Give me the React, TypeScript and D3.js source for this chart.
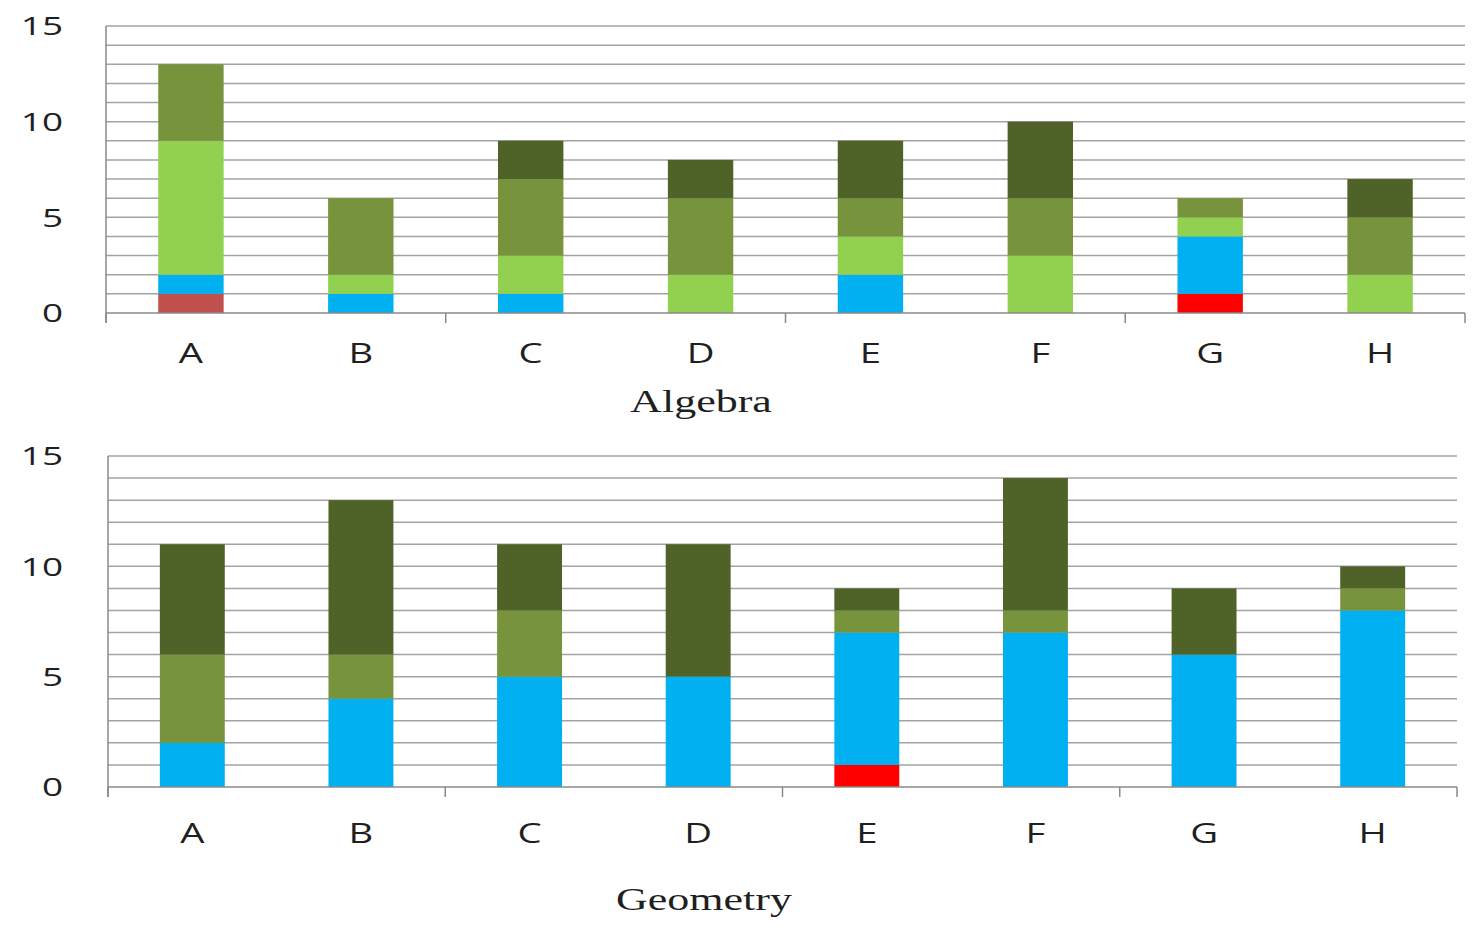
import React from "react";
import * as d3 from "d3";

const categories = ["A", "B", "C", "D", "E", "F", "G", "H"];
const seriesKeys = ["darkRed", "red", "blue", "lightGreen", "midGreen", "darkGreen"];
const seriesColors = ["#C0504D", "#FF0000", "#00B0F0", "#92D050", "#77933C", "#4F6228"];
const yTicks = [0, 5, 10, 15];

// Algebra
const algebraDarkRed = [1, 0, 0, 0, 0, 0, 0, 0];
const algebraRed = [0, 0, 0, 0, 0, 0, 1, 0];
const algebraBlue = [1, 1, 1, 0, 2, 0, 3, 0];
const algebraLightGreen = [7, 1, 2, 2, 2, 3, 1, 2];
const algebraMidGreen = [4, 4, 4, 4, 2, 3, 1, 3];
const algebraDarkGreen = [0, 0, 2, 2, 3, 4, 0, 2];

// Geometry
const geometryDarkRed = [0, 0, 0, 0, 0, 0, 0, 0];
const geometryRed = [0, 0, 0, 0, 1, 0, 0, 0];
const geometryBlue = [2, 4, 5, 5, 6, 7, 6, 8];
const geometryLightGreen = [0, 0, 0, 0, 0, 0, 0, 0];
const geometryMidGreen = [4, 2, 3, 0, 1, 1, 0, 1];
const geometryDarkGreen = [5, 7, 3, 6, 1, 6, 3, 1];

function buildRows(cols: number[][]) {
  return categories.map((c, i) => {
    const row: any = { cat: c };
    seriesKeys.forEach((k, j) => (row[k] = cols[j][i]));
    return row;
  });
}

const panels = [
  {
    title: "Algebra",
    rows: buildRows([algebraDarkRed, algebraRed, algebraBlue, algebraLightGreen, algebraMidGreen, algebraDarkGreen]),
    left: 106, right: 1465, top: 26, bottom: 313,
    catY: 363, titleX: 701, titleY: 412,
  },
  {
    title: "Geometry",
    rows: buildRows([geometryDarkRed, geometryRed, geometryBlue, geometryLightGreen, geometryMidGreen, geometryDarkGreen]),
    left: 108, right: 1457, top: 456, bottom: 787,
    catY: 843, titleX: 704, titleY: 910,
  },
];

const SX = 1.42;

function STxt({ x, y, anchor, size, family, children, dy, weight }: any) {
  return (
    <g transform={`translate(${x},${y}) scale(${SX},1)`}>
      <text x={0} y={0} dy={dy || 0} textAnchor={anchor} fontSize={size} fontFamily={family} fontWeight={weight || 400} fill="#1f1f1f">
        {children}
      </text>
    </g>
  );
}

function Panel({ p }: any) {
  const x = d3.scaleBand().domain(categories).range([p.left, p.right]).paddingInner(0.615).paddingOuter(0.3075);
  const y = d3.scaleLinear().domain([0, 15]).range([p.bottom, p.top]);
  const stack = d3.stack().keys(seriesKeys)(p.rows);
  const step = (p.right - p.left) / categories.length;
  const grid = d3.range(1, 16);
  const boundaries = d3.range(0, categories.length + 1, 2);
  return (
    <g>
      {grid.map((v) => (
        <line key={v} x1={p.left} x2={p.right} y1={y(v)} y2={y(v)} stroke="#A3A3A3" strokeWidth={1.5} />
      ))}
      {stack.map((s: any, si: number) =>
        s.map((d: any, i: number) =>
          d[1] - d[0] > 0 ? (
            <rect
              key={`${si}-${i}`}
              x={x(categories[i])}
              width={x.bandwidth()}
              y={y(d[1])}
              height={y(d[0]) - y(d[1])}
              fill={seriesColors[si]}
            />
          ) : null
        )
      )}
      <line x1={p.left} x2={p.right} y1={y(0)} y2={y(0)} stroke="#8A8A8A" strokeWidth={1.5} />
      <line x1={p.left} x2={p.left} y1={p.top} y2={y(0) + 10} stroke="#8A8A8A" strokeWidth={1.5} />
      {boundaries.map((b) => (
        <line key={b} x1={p.left + b * step} x2={p.left + b * step} y1={y(0)} y2={y(0) + 10} stroke="#8A8A8A" strokeWidth={1.5} />
      ))}
      {yTicks.map((t) => (
        <STxt key={t} x={63} y={y(t)} anchor="end" size={26} family="'Open Sans', sans-serif" dy="0.36em" weight={500}>
          {t}
        </STxt>
      ))}
      {categories.map((c) => (
        <STxt key={c} x={(x(c) as number) + x.bandwidth() / 2} y={p.catY} anchor="middle" size={27} family="'Open Sans', sans-serif" weight={500}>
          {c}
        </STxt>
      ))}
      <STxt x={p.titleX} y={p.titleY} anchor="middle" size={31} family="'Liberation Serif', 'Times New Roman', serif">
        {p.title}
      </STxt>
    </g>
  );
}

export default function App() {
  return (
    <svg width={1479} height={930} style={{ position: "absolute", left: 0, top: 0, background: "#fff" }}>
      <rect width={1479} height={930} fill="#fff" />
      {panels.map((p) => (
        <Panel key={p.title} p={p} />
      ))}
    </svg>
  );
}
